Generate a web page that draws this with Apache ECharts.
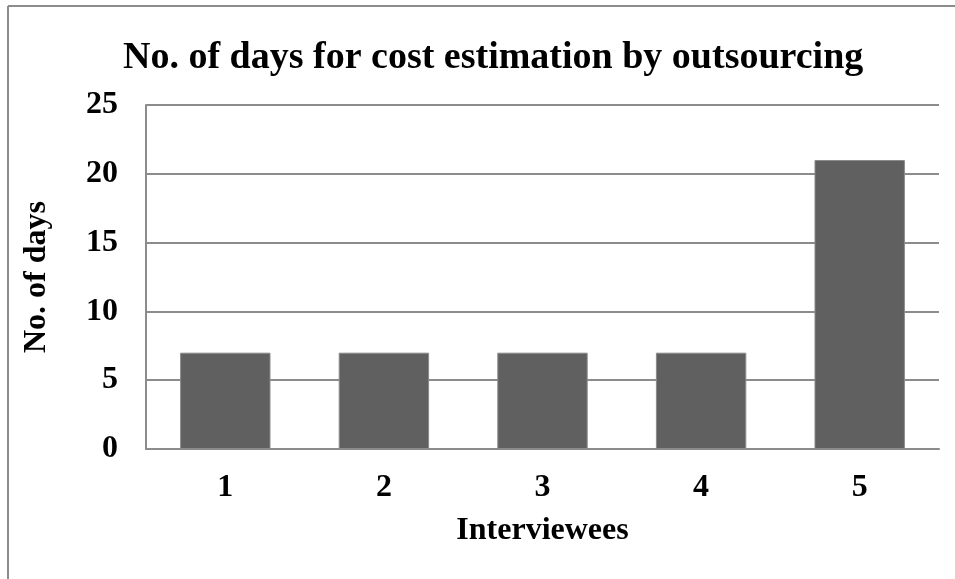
<!DOCTYPE html>
<html>
<head>
<meta charset="utf-8">
<script src="https://cdn.jsdelivr.net/npm/echarts@6/dist/echarts.min.js"></script>
<style>
  html, body { margin: 0; padding: 0; background: #fff; }
  #chart { width: 955px; height: 579px; }
</style>
</head>
<body>
<div id="chart"></div>
<script>
// Interviewee numbers and the days each needed for an outsourced cost estimate
const interviewees = ['1', '2', '3', '4', '5'];
const daysNeeded = [7, 7, 7, 7, 21];
const yTicks = { min: 0, max: 25, step: 5 };

const FONT = '"Liberation Serif", "Times New Roman", serif';
const GRAY = '#8c8c8c';

const chart = echarts.init(document.getElementById('chart'), null, { renderer: 'canvas' });

chart.setOption({
  backgroundColor: '#ffffff',
  animation: false,
  title: {
    text: 'No. of days for cost estimation by outsourcing',
    left: 118,
    top: 34,
    textStyle: { fontFamily: FONT, fontWeight: 'bold', fontSize: 38, color: '#000' }
  },
  graphic: [
    // frame: left and top edges
    { type: 'line', shape: { x1: 8, y1: 6, x2: 8, y2: 579 }, style: { stroke: GRAY, lineWidth: 2 } },
    { type: 'line', shape: { x1: 8, y1: 6, x2: 955, y2: 6 }, style: { stroke: GRAY, lineWidth: 2 } }
  ],
  grid: { left: 146, right: 16, top: 105, bottom: 130 },
  xAxis: {
    type: 'category',
    data: interviewees,
    name: 'Interviewees',
    nameLocation: 'middle',
    nameGap: 66,
    nameTextStyle: { fontFamily: FONT, fontWeight: 'bold', fontSize: 32, color: '#000' },
    axisLine: { show: true, lineStyle: { color: GRAY, width: 2 } },
    axisTick: { show: false },
    axisLabel: { fontFamily: FONT, fontWeight: 'bold', fontSize: 32, color: '#000', margin: 23 }
  },
  yAxis: {
    type: 'value',
    min: yTicks.min,
    max: yTicks.max,
    interval: yTicks.step,
    name: 'No. of days',
    nameLocation: 'middle',
    nameGap: 93,
    nameTextStyle: { fontFamily: FONT, fontWeight: 'bold', fontSize: 32, color: '#000' },
    axisLine: { show: true, lineStyle: { color: GRAY, width: 2 } },
    axisTick: { show: false },
    axisLabel: { fontFamily: FONT, fontWeight: 'bold', fontSize: 32, color: '#000', margin: 28 },
    splitLine: { show: true, lineStyle: { color: GRAY, width: 2 } }
  },
  series: [{
    type: 'bar',
    data: daysNeeded,
    barWidth: '57%',
    itemStyle: { color: '#606060', borderColor: '#8a8a8a', borderWidth: 1 }
  }]
});
</script>
</body>
</html>
